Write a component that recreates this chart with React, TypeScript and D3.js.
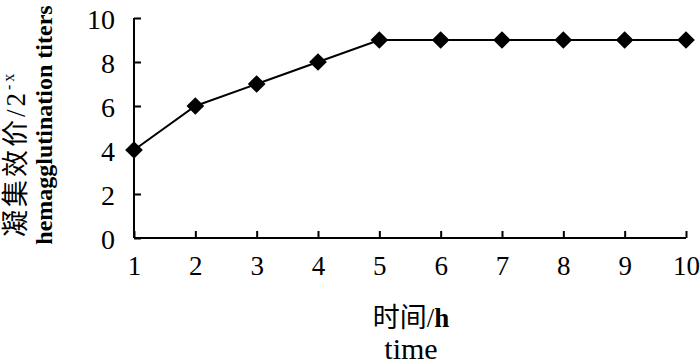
import * as d3 from "d3"
import { useEffect, useRef } from "react"

const hours = [1, 2, 3, 4, 5, 6, 7, 8, 9, 10]
const titers = [4, 6, 7, 8, 9, 9, 9, 9, 9, 9]
const yTicks = [0, 2, 4, 6, 8, 10]

const App = () => {
  const svgRef = useRef<SVGSVGElement | null>(null)

  useEffect(() => {
    if (!svgRef.current) return
    const svg = d3.select(svgRef.current)
    svg.selectAll("*").remove()

    const W = 700
    const H = 364
    const font = "'Liberation Serif', 'Times New Roman', serif"
    const cjk = "'Liberation Serif', 'Noto Sans CJK SC', serif"

    const x = d3.scaleLinear().domain([1, 10]).range([134, 686])
    const y = d3.scaleLinear().domain([0, 10]).range([238, 18])

    svg.attr("width", W).attr("height", H).style("background", "#fff")

    // Y axis, ticks pointing inward
    const yAxis = svg
      .append("g")
      .attr("transform", `translate(${x(1)},0)`)
      .call(d3.axisRight(y).tickValues(yTicks).tickSize(7).tickFormat(d3.format("d")))
    yAxis.select(".domain").attr("stroke", "#000").attr("stroke-width", 2).attr("d", `M0,${y(10)}V${y(0)}`)
    yAxis.selectAll(".tick line").attr("stroke", "#000").attr("stroke-width", 2)
    yAxis
      .selectAll(".tick text")
      .attr("x", -19)
      .attr("dy", "0.36em")
      .attr("text-anchor", "end")
      .style("font", `28px ${font}`)
      .attr("fill", "#000")

    // X axis
    const xAxis = svg
      .append("g")
      .attr("transform", `translate(0,${y(0)})`)
      .call(d3.axisTop(x).tickValues(hours).tickSize(7).tickFormat(d3.format("d")))
    xAxis.select(".domain").attr("stroke", "#000").attr("stroke-width", 2).attr("d", `M${x(1)},0H${x(10)}`)
    xAxis.selectAll(".tick line").attr("stroke", "#000").attr("stroke-width", 2)
    xAxis
      .selectAll(".tick text")
      .attr("y", 37)
      .attr("dy", 0)
      .attr("text-anchor", "middle")
      .style("font", `27px ${font}`)
      .attr("fill", "#000")

    // Line
    const line = d3
      .line<number>()
      .x((_, i) => x(hours[i]))
      .y((d) => y(d))
    svg
      .append("path")
      .datum(titers)
      .attr("d", line)
      .attr("fill", "none")
      .attr("stroke", "#000")
      .attr("stroke-width", 2)

    // Diamond markers
    svg
      .selectAll(".pt")
      .data(titers)
      .enter()
      .append("path")
      .attr("class", "pt")
      .attr("d", d3.symbol(d3.symbolDiamond2, 200)())
      .attr("transform", (d, i) => `translate(${x(hours[i])},${y(d)})`)
      .attr("fill", "#000")

    // X title
    const xt = svg
      .append("text")
      .attr("x", 411)
      .attr("y", 327)
      .attr("text-anchor", "middle")
      .style("font", `27px ${cjk}`)
      .attr("fill", "#000")
    xt.append("tspan").text("时间/")
    xt.append("tspan").attr("font-weight", "bold").text("h")

    svg
      .append("text")
      .attr("x", 411)
      .attr("y", 359)
      .attr("text-anchor", "middle")
      .style("font", `30px ${font}`)
      .attr("fill", "#000")
      .text("time")

    // Y titles
    const yt = svg
      .append("text")
      .attr("transform", "translate(25,237) rotate(-90)")
      .attr("text-anchor", "start")
      .style("font", `27px ${cjk}`)
      .attr("letter-spacing", "3px")
      .attr("fill", "#000")
    yt.append("tspan").text("凝集效价/2")
    yt.append("tspan").attr("dy", -11).style("font-size", "16px").text("-x")

    svg
      .append("text")
      .attr("transform", "translate(52,125) rotate(-90)")
      .attr("text-anchor", "middle")
      .style("font", `bold 24px ${font}`)
      .attr("fill", "#000")
      .text("hemagglutination titers")
  }, [])

  return (
    <div style={{ position: "absolute", left: 0, top: 0 }}>
      <svg ref={svgRef} />
    </div>
  )
}

export default App
